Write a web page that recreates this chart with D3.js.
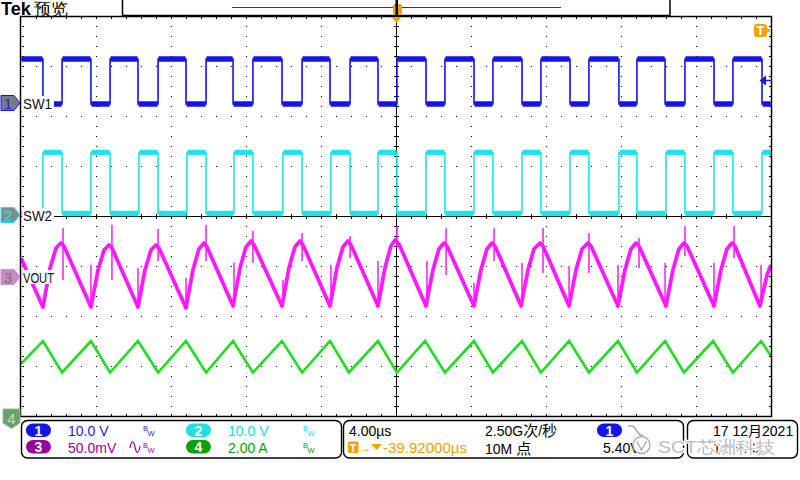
<!DOCTYPE html>
<html><head><meta charset="utf-8">
<script src="https://cdn.jsdelivr.net/npm/d3@7"></script>
<style>
html,body{margin:0;padding:0;background:#fff;}
svg{display:block;}
text{font-family:"Liberation Sans",Arial,sans-serif;}
</style></head><body>
<svg id="c" width="800" height="480"></svg>
<script>
const timeDomain = [-20, 20];            // µs, 4.00 µs/div
const divDomain = [-4, 4];               // vertical divisions
const chLabels = ["SW1", "SW2", "VOUT"];
const chColors = ["#1414e6", "#1ee6e6", "#ff1aff", "#22dd22"];
const chPerDiv = [10, 10, 50, 2];        // V, V, mV, A per div
const chPosDiv = [2.26, 0.02, -1.22, -4.0];

// SW1: starts high, toggles at each edge (µs)
const sw1Edges = [-18.83,-17.81,-16.27,-15.25,-13.76,-12.69,-11.20,-10.13,-8.69,-7.63,-6.08,-5.01,-3.52,-2.45,-0.96,0.05,1.60,2.61,4.16,5.17,6.72,7.73,9.28,10.29,11.89,12.85,14.35,15.41,16.96,17.97,19.52];
const sw1Levels = [8.8, -0.2];           // high, low (V)
// SW2: starts low
const sw2Edges = [-18.83,-17.81,-16.27,-15.25,-13.71,-12.69,-11.15,-10.13,-8.64,-7.63,-6.03,-5.01,-3.47,-2.45,-0.96,0.05,1.60,2.61,4.16,5.17,6.72,7.73,9.28,10.29,11.89,12.85,14.40,15.41,16.96,17.97,19.52];
const sw2Levels = [12.5, 0.3];

// VOUT ripple (µs, mV)
const voutT = [-20.00,-18.83,-18.45,-18.13,-17.87,-17.71,-16.27,-15.89,-15.57,-15.31,-15.15,-13.76,-13.39,-13.07,-12.80,-12.64,-11.20,-10.83,-10.51,-10.24,-10.08,-8.69,-8.32,-8.00,-7.73,-7.57,-6.08,-5.71,-5.39,-5.12,-4.96,-3.52,-3.15,-2.83,-2.56,-2.40,-0.96,-0.59,-0.27,-0.05,0.16,1.60,1.97,2.29,2.56,2.72,4.16,4.53,4.85,5.12,5.28,6.67,7.04,7.36,7.68,7.84,9.23,9.60,9.92,10.24,10.40,11.84,12.21,12.53,12.80,12.96,14.40,14.77,15.09,15.36,15.52,16.96,17.33,17.65,17.92,18.08,19.41,19.79,20.00];
const voutMv = [19,-30,9,29,34,31,-30,7,27,32,29,-30,7,27,32,29,-31,7,28,34,30,-29,9,30,36,32,-29,9,30,36,32,-29,9,30,36,32,-29,9,31,37,33,-29,7,28,34,31,-29,7,28,34,31,-29,7,28,34,31,-29,7,28,34,31,-29,7,28,34,31,-29,7,28,34,31,-29,7,28,34,31,-29,2,12];
// switching spikes on VOUT (µs, top mV, bottom mV)
const spikeT  = [-17.76,-15.15,-12.69,-10.13,-7.63,-5.01,-2.45,0.05,2.67,5.23,7.84,10.29,12.96,15.41,18.03,
                 -16.27,-13.76,-11.20,-8.64,-6.03,-3.47,-0.96,1.65,4.16,6.72,9.23,11.84,14.35,16.96,19.47];
const spikeHi = [49,52,48,52,46,44,41,51,49,49,49,44,39,51,51, 12,9,-1,14,-3,12,16,16,-6,14,11,12,14,14,12];
const spikeLo = [-3,-3,16,16,14,16,19,29,2,16,4,4,9,21,19, -30,-30,-31,-29,-29,-29,-29,-29,-29,-29,-29,-29,-29,-29,-29];

// inductor current (µs, A)
const ilT = [-20.00,-18.83,-17.81,-16.27,-15.25,-13.76,-12.69,-11.20,-10.13,-8.69,-7.63,-6.08,-5.01,-3.52,-2.51,-0.96,0.05,1.55,2.61,4.16,5.17,6.72,7.73,9.23,10.29,11.84,12.85,14.35,15.36,16.91,17.97,19.47,20.00];
const ilA = [2.09,3.00,1.74,3.00,1.74,3.00,1.74,3.00,1.74,3.00,1.74,3.00,1.74,3.00,1.74,3.00,1.74,3.00,1.74,3.00,1.74,3.00,1.74,3.00,1.74,3.00,1.74,3.00,1.74,3.00,1.74,3.00,2.40];

// status bar texts
const chScaleText = ["10.0 V", "10.0 V", "50.0mV", "2.00 A"];
const timeText = "4.00µs";
const delayText = "-39.92000µs";
const rateText = ["2.50G", "次", "/", "秒"];
const lenText = ["10M ", "点"];
const trigText = "5.40";
const dateText = ["17 12", "月", "2021"];
const watermark = "SCT芯洲科技";

// ---------- drawing ----------
const svg = d3.select("#c");
const L = 21, R = 771, T = 16, B = 416;
const x = d3.scaleLinear().domain(timeDomain).range([L, R]);
const yDiv = d3.scaleLinear().domain(divDomain).range([B, T]);
const chY = i => v => yDiv(v / chPerDiv[i] + chPosDiv[i]);

// graticule
const gg = svg.append("g").attr("shape-rendering", "crispEdges").attr("fill", "#000");
const minorT = d3.range(1, 50).map(i => timeDomain[0] + i * 0.8);
const minorV = d3.range(1, 40).map(i => divDomain[0] + i * 0.2);
const majT = d3.range(1, 10).map(i => timeDomain[0] + i * 4).filter(t => Math.abs(t) > 1e-6);
const majV = [-3, -2, -1, 1, 2, 3];
function dot(px, py, w = 1, h = 1) { gg.append("rect").attr("x", Math.round(px)).attr("y", Math.round(py)).attr("width", w).attr("height", h); }
majT.forEach(t => minorV.forEach(v => dot(x(t), yDiv(v))));
majV.forEach(v => minorT.forEach(t => dot(x(t), yDiv(v))));
minorT.forEach(t => { dot(x(t), yDiv(0) - 2, 1, 5); dot(x(t), T + 1, 1, 2); dot(x(t), B - 2, 1, 2); });
minorV.forEach(v => { dot(x(0) - 2, yDiv(v), 5, 1); dot(L + 1, yDiv(v), 2, 1); dot(R - 2, yDiv(v), 2, 1); });
gg.append("rect").attr("x", L).attr("y", yDiv(0)).attr("width", R - L).attr("height", 1);
gg.append("rect").attr("x", x(0)).attr("y", T).attr("width", 1).attr("height", B - T);

// traces
svg.append("clipPath").attr("id", "clip").append("rect").attr("x", L).attr("y", T).attr("width", R - L).attr("height", B - T);
const tg = svg.append("g").attr("clip-path", "url(#clip)");

function stepTrace(edges, startHigh, levels, ci) {
  const y = chY(ci);
  const bounds = [timeDomain[0], ...edges, timeDomain[1]];
  let pts = [], segs = [], high = startHigh;
  for (let i = 0; i < bounds.length - 1; i++) {
    const v = high ? levels[0] : levels[1];
    pts.push([bounds[i], v], [bounds[i + 1], v]);
    segs.push([bounds[i], bounds[i + 1], v]);
    high = !high;
  }
  tg.append("path").attr("d", d3.line().x(d => x(d[0])).y(d => y(d[1]))(pts))
    .attr("fill", "none").attr("stroke", chColors[ci]).attr("stroke-width", 1.6);
  tg.selectAll(null).data(segs).join("line")
    .attr("x1", d => x(d[0]) + 0.5).attr("x2", d => x(d[1]) - 0.5)
    .attr("y1", d => y(d[2])).attr("y2", d => y(d[2]))
    .attr("stroke", chColors[ci]).attr("stroke-width", 5.5);
}
stepTrace(sw1Edges, true, sw1Levels, 0);
stepTrace(sw2Edges, false, sw2Levels, 1);

const y3 = chY(2);
tg.append("path").attr("d", d3.line().x((d, i) => x(voutT[i])).y((d, i) => y3(voutMv[i]))(voutT))
  .attr("fill", "none").attr("stroke", chColors[2]).attr("stroke-width", 3.8).attr("stroke-linejoin", "round");
tg.selectAll(null).data(spikeT).join("line")
  .attr("x1", d => x(d)).attr("x2", d => x(d))
  .attr("y1", (d, i) => y3(spikeHi[i])).attr("y2", (d, i) => y3(spikeLo[i]))
  .attr("stroke", chColors[2]).attr("stroke-width", 1.5);

const y4 = chY(3);
tg.append("path").attr("d", d3.line().x((d, i) => x(ilT[i])).y((d, i) => y4(ilA[i]))(ilT))
  .attr("fill", "none").attr("stroke", chColors[3]).attr("stroke-width", 2.6);

// frame
svg.append("rect").attr("x", L - 0.5).attr("y", T + 0.5).attr("width", R - L + 1).attr("height", B - T)
  .attr("fill", "none").attr("stroke", "#000").attr("stroke-width", 1.5);

// channel labels with white background
const labY = [chY(0)(0), chY(1)(0), chY(2)(0)];
const labW = [29, 29, 31];
chLabels.forEach((s, i) => {
  svg.append("rect").attr("x", 22).attr("y", labY[i] - 7).attr("width", labW[i] + 3).attr("height", 14).attr("fill", "#fff");
  svg.append("text").attr("x", 23).attr("y", labY[i] + 5.5).attr("font-size", 14)
    .attr("textLength", labW[i]).attr("lengthAdjust", "spacingAndGlyphs").attr("fill", "#111").text(s);
});

// channel markers on the left
const mk = [
  {fill: "#7a7a8e", stroke: chColors[0], tc: "#2020d0"},
  {fill: "#7f8f8f", stroke: chColors[1], tc: "#30e0e0"},
  {fill: "#c88cc8", stroke: "#c88cc8", tc: "#777"}
];
mk.forEach((m, i) => {
  const cy = labY[i];
  svg.append("path").attr("d", `M1,${cy - 7.5} H14 L20,${cy} L14,${cy + 7.5} H1 Z`)
    .attr("fill", m.fill).attr("stroke", m.stroke).attr("stroke-width", 1);
  svg.append("text").attr("x", 8).attr("y", cy + 5.5).attr("text-anchor", "middle")
    .attr("font-size", 15).attr("fill", m.tc).text(String(i + 1));
});
svg.append("path").attr("d", "M3,409 H20 V423 L11.5,428.5 L3,423 Z").attr("fill", "#6e9e6e").attr("stroke", "#8cc08c");
svg.append("text").attr("x", 11.5).attr("y", 424).attr("text-anchor", "middle").attr("font-size", 15).attr("fill", "#b8e8b8").text("4");

// trigger level arrow (ch1) on the right
const trigY = chY(0)(4.5);
svg.append("path").attr("d", `M760,${trigY} L766,${trigY - 5} L766,${trigY + 5} Z`).attr("fill", chColors[0]);
svg.append("line").attr("x1", 760).attr("x2", 772).attr("y1", trigY).attr("y2", trigY).attr("stroke", chColors[0]).attr("stroke-width", 1.5);

// trigger T marker top right
const orange = "#f7a000";
svg.append("rect").attr("x", 754).attr("y", 24).attr("width", 13).attr("height", 13).attr("rx", 3).attr("fill", orange);
svg.append("path").attr("d", "M766,27.5 L771,30.5 L766,33.5 Z").attr("fill", orange);
svg.append("text").attr("x", 760.5).attr("y", 35).attr("text-anchor", "middle").attr("font-size", 13).attr("font-weight", "bold").attr("fill", "#fff").text("T");
// trigger position triangle under top frame
svg.append("path").attr("d", `M${x(0) - 4.5},17 L${x(0) + 5.5},17 L${x(0) + 0.5},23 Z`).attr("fill", orange);

// header
svg.append("text").attr("x", 1).attr("y", 15).attr("font-family", "Liberation Serif").attr("font-weight", "bold").attr("font-size", 18).attr("fill", "#000").text("Tek");
svg.append("text").attr("x", 34).attr("y", 15).attr("font-family", "Noto Sans CJK SC").attr("font-weight", 300).attr("font-size", 17).attr("fill", "#000").text("预览");
svg.append("rect").attr("x", 122.5).attr("y", -1).attr("width", 547.5).attr("height", 16.5).attr("fill", "#fff").attr("stroke", "#000").attr("stroke-width", 1.5);
svg.append("line").attr("x1", 232).attr("x2", 561).attr("y1", 7.5).attr("y2", 7.5).attr("stroke", "#8a008a").attr("stroke-width", 1);
svg.append("rect").attr("x", 393).attr("y", 4).attr("width", 9).attr("height", 11).attr("rx", 2).attr("fill", orange);
svg.append("rect").attr("x", 395.5).attr("y", 0).attr("width", 2.5).attr("height", 16).attr("fill", "#000");

// ---------- status bar ----------
const sb = svg.append("g");
const box = (x0, x1) => sb.append("rect").attr("x", x0 + 0.5).attr("y", 420.5).attr("width", x1 - x0).attr("height", 37.5)
  .attr("rx", 6).attr("fill", "none").attr("stroke", "#000").attr("stroke-width", 1.4);
box(21, 341); box(343, 683); box(687, 797);

const pillFill = ["#1414e6", "#1ee0e0", "#9a009a", "#0aa00a"];
const txtFill = ["#1e1edc", "#1ad8d8", "#9a009a", "#0a9a0a"];
const colX = [26, 186, 26, 186];
[0, 1, 2, 3].forEach(i => {
  const cx = colX[i], ry = i < 2 ? 423.5 : 440;
  sb.append("rect").attr("x", cx).attr("y", ry).attr("width", 25).attr("height", 13.5).attr("rx", 6.75).attr("fill", pillFill[i]);
  sb.append("text").attr("x", cx + 12.5).attr("y", ry + 12).attr("text-anchor", "middle").attr("font-size", 14).attr("font-weight", "bold").attr("fill", "#fff").text(String(i + 1));
  const bl = i < 2 ? 436 : 453;
  sb.append("text").attr("x", cx + 42).attr("y", bl).attr("font-size", 14).attr("fill", txtFill[i]).text(chScaleText[i]);
  const bx = i % 2 === 0 ? 143 : 303;
  sb.append("text").attr("x", bx).attr("y", bl - 5.5).attr("font-size", 7.5).attr("fill", txtFill[i]).text("B");
  sb.append("text").attr("x", bx + 4.5).attr("y", bl).attr("font-size", 7.5).attr("fill", txtFill[i]).text("W");
});
sb.append("path").attr("d", "M130,448 C131.5,440 133.5,440 135,447 S138.5,455 140,446").attr("fill", "none").attr("stroke", txtFill[2]).attr("stroke-width", 1.2);

sb.append("text").attr("x", 349).attr("y", 436).attr("font-size", 14).attr("fill", "#000").text(timeText);
sb.append("rect").attr("x", 348).attr("y", 441.5).attr("width", 10.5).attr("height", 11.5).attr("rx", 1.5).attr("fill", orange);
sb.append("text").attr("x", 353.2).attr("y", 451.5).attr("text-anchor", "middle").attr("font-size", 11).attr("font-weight", "bold").attr("fill", "#fff").text("T");
sb.append("text").attr("x", 359.5).attr("y", 452).attr("font-size", 12).attr("fill", orange).text("→");
sb.append("path").attr("d", "M371,444 L382,444 L376.5,450 Z").attr("fill", orange);
sb.append("text").attr("x", 383).attr("y", 453).attr("font-size", 14).attr("fill", orange)
  .attr("textLength", 84).attr("lengthAdjust", "spacingAndGlyphs").text(delayText);

const cjk = "Noto Sans CJK SC";
const rt = sb.append("text").attr("x", 485).attr("y", 436).attr("font-size", 14).attr("fill", "#000");
rt.append("tspan").text(rateText[0]);
rt.append("tspan").attr("font-family", cjk).attr("font-size", 15).text(rateText[1]);
rt.append("tspan").text(rateText[2]);
rt.append("tspan").attr("font-family", cjk).attr("font-size", 15).text(rateText[3]);
const lt = sb.append("text").attr("x", 485).attr("y", 453.5).attr("font-size", 14).attr("fill", "#000");
lt.append("tspan").text(lenText[0]);
lt.append("tspan").attr("font-family", cjk).attr("font-size", 15).text(lenText[1]);

sb.append("rect").attr("x", 597).attr("y", 423.5).attr("width", 25).attr("height", 13.5).attr("rx", 6.75).attr("fill", pillFill[0]);
sb.append("text").attr("x", 609.5).attr("y", 435.5).attr("text-anchor", "middle").attr("font-size", 14).attr("font-weight", "bold").attr("fill", "#fff").text("1");
sb.append("path").attr("d", "M628,426 L633,426 L640,435 L643,435").attr("fill", "none").attr("stroke", "#888").attr("stroke-width", 1.2);
sb.append("text").attr("x", 603).attr("y", 453).attr("font-size", 14).attr("fill", "#000").text(trigText + "V");

const dt = sb.append("text").attr("x", 713).attr("y", 436).attr("font-size", 14).attr("fill", "#000");
dt.append("tspan").text(dateText[0]);
dt.append("tspan").attr("font-family", cjk).attr("font-size", 14).text(dateText[1]);
dt.append("tspan").text(dateText[2]);
sb.append("text").attr("x", 713).attr("y", 453).attr("font-size", 14).attr("fill", "#000").text("12:14:36");

// watermark
const wm = svg.append("g");
wm.append("circle").attr("cx", 641.5).attr("cy", 445).attr("r", 8.5).attr("fill", "#fff").attr("stroke", "#a8a8a8").attr("stroke-width", 1.3);
wm.append("path").attr("d", "M636.5,441 L641.5,450 L646.5,441").attr("fill", "none").attr("stroke", "#a8a8a8").attr("stroke-width", 1.3);
wm.append("text").attr("x", 658).attr("y", 453).attr("font-family", "Noto Sans CJK SC").attr("font-size", 17)
  .attr("textLength", 117).attr("lengthAdjust", "spacingAndGlyphs")
  .attr("fill", "#bdbdbd").attr("stroke", "#fff").attr("stroke-width", 2.5).attr("paint-order", "stroke").text(watermark);
</script></body></html>
